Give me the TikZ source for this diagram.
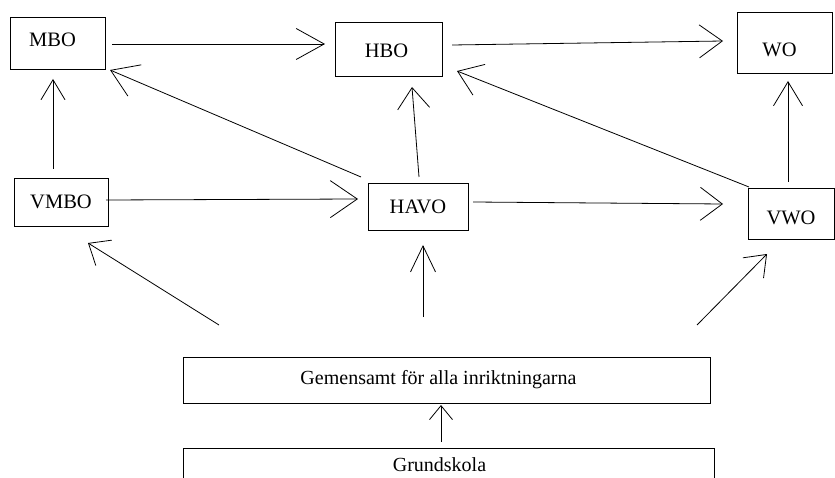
\documentclass[tikz,border=0pt]{standalone}
\usepackage{fontspec}
\setmainfont{Liberation Serif}
\usetikzlibrary{arrows.meta}
\newcommand{\moveit}[3]{\hspace*{#1}\raisebox{#2}[\height][\depth]{#3}}
\begin{document}
\begin{tikzpicture}[x=1pt,y=-1pt,
  box/.style={draw, line width=0.8pt, inner sep=0pt, outer sep=0pt,
    font=\fontsize{20.5}{24}\selectfont},
  arr/.style 2 args={line width=0.8pt, -{Straight Barb[length=#1pt,width=#2pt,line width=0.8pt]}}]
\useasboundingbox (0,0) rectangle (835,478);
\fill[white] (0,0) rectangle (835,478);
% boxes
\node[box, minimum width=95pt, minimum height=52pt] (mbo) at (57.5,43) {\moveit{-10pt}{3pt}{MBO}};
\node[box, minimum width=107pt, minimum height=54pt] (hbo) at (388.5,49) {\moveit{-4pt}{-2pt}{HBO}};
\node[box, minimum width=95pt, minimum height=61pt] (wo) at (784.5,42.5) {\moveit{-10pt}{-7pt}{WO}};
\node[box, minimum width=94pt, minimum height=48pt] (vmbo) at (61,202) {VMBO};
\node[box, minimum width=100pt, minimum height=47pt] (havo) at (418,206.5) {HAVO};
\node[box, minimum width=86pt, minimum height=51pt] (vwo) at (791,213.5) {\moveit{0pt}{-4pt}{VWO}};
\node[box, minimum width=527pt, minimum height=46pt, font=\fontsize{20}{24}\selectfont] (gem) at (446.5,380) {\moveit{-16pt}{0pt}{Gemensamt för alla inriktningarna}};
\node[box, minimum width=531pt, minimum height=34pt, font=\fontsize{20}{24}\selectfont] (grund) at (448.5,465) {\moveit{-18pt}{0pt}{Grundskola}};
% connectors
\draw[arr={28}{31}] ([shift={(7,1)}]mbo.east) -- ([shift={(-10,-5)}]hbo.west);
\draw[arr={23}{33}] ([shift={(10,-4)}]hbo.east) -- ([shift={(-14,-1.5)}]wo.west);
\draw[arr={20}{24}] ([shift={(-8,-9)}]vmbo.north) -- ([shift={(-4.5,10)}]mbo.south);
\draw[arr={26}{34}] ([shift={(-7,-6)}]havo.north west) -- ([shift={(5,1)}]mbo.south east);
\draw[arr={21}{32}] ([shift={(1,-6)}]havo.north) -- ([shift={(23.5,11)}]hbo.south);
\draw[arr={23}{33}] ([shift={(1,-1)}]vwo.north west) -- ([shift={(15,-5)}]hbo.south east);
\draw[arr={24}{29}] ([shift={(-3,-6)}]vwo.north) -- ([shift={(3.5,8)}]wo.south);
\draw[arr={27}{37}] ([shift={(-2,-2)}]vmbo.east) -- ([shift={(-10,-7.5)}]havo.west);
\draw[arr={22}{33}] ([shift={(5,-4.5)}]havo.east) -- ([shift={(-25,-9.5)}]vwo.west);
\draw[arr={18}{30}] ([shift={(36,-32)}]gem.north west) -- ([shift={(27,17)}]vmbo.south);
\draw[arr={26}{25}] ([shift={(-23.5,-40)}]gem.north) -- ([shift={(5,15)}]havo.south);
\draw[arr={19}{29}] ([shift={(-13,-32)}]gem.north east) -- ([shift={(-24,15)}]vwo.south);
\draw[arr={14}{23}] ([shift={(-7.5,-6)}]grund.north) -- ([shift={(-5.5,2)}]gem.south);
\end{tikzpicture}
\end{document}
